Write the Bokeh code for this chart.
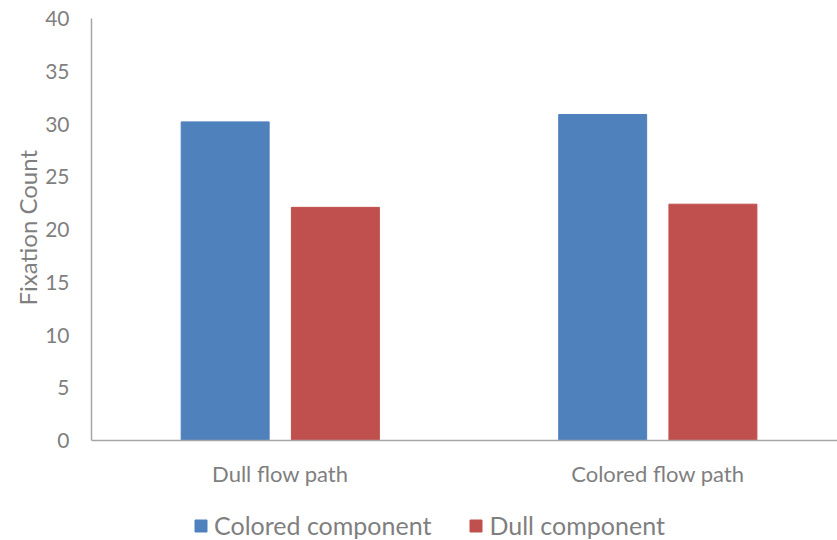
from bokeh.plotting import figure
from bokeh.models import (Range1d, FixedTicker, Legend, LegendItem,
                          ColumnDataSource, Span, Title)
from bokeh.core.properties import value
from bokeh.transform import dodge
from bokeh.embed import file_html
from bokeh.resources import INLINE

# Chart data
categories = ["Dull flow path", "Colored flow path"]
series_names = ["Colored component", "Dull component"]
colored_component = [30.2, 30.9]
dull_component = [22.1, 22.4]
y_ticks = [0, 5, 10, 15, 20, 25, 30, 35, 40]
y_title = "Fixation Count"

BLUE = "#4F81BD"
RED = "#C0504D"
TEXT = "#7F7F7F"
AXIS = "#A6A6A6"
FONT = "Lato"

Y_MAX = 40
PLOT_PX = 422      # pixel height of the 0..40 value band
FOOT_PX = 100      # room below the baseline for category labels and legend

source = ColumnDataSource(dict(
    x=[i + 0.5 for i in range(len(categories))],
    zero=[0] * len(categories),
    label=categories,
    colored=colored_component,
    dull=dull_component,
))

# the frame reaches down to the bottom edge so the legend can live under the labels
p = figure(
    frame_width=746, frame_height=PLOT_PX + FOOT_PX,
    output_backend="svg", toolbar_location=None,
    x_range=Range1d(0, 1.976),
    y_range=Range1d(-Y_MAX * FOOT_PX / PLOT_PX, Y_MAX),
    min_border_left=91, min_border_right=0, min_border_top=18, min_border_bottom=0,
)
p.outline_line_color = None
p.xgrid.grid_line_color = None
p.ygrid.grid_line_color = None
p.xaxis.visible = False

bar_w = 0.233
r1 = p.vbar(x=dodge("x", -0.146, range=p.x_range), top="colored", width=bar_w,
            source=source, fill_color=BLUE, line_color=BLUE)
r2 = p.vbar(x=dodge("x", 0.146, range=p.x_range), top="dull", width=bar_w,
            source=source, fill_color=RED, line_color=RED)

# baseline at zero
p.add_layout(Span(location=0, dimension="width", line_color=AXIS, line_width=1.5))

# category labels under the baseline
p.text(x="x", y="zero", text="label", source=source, y_offset=33,
       text_font=value(FONT), text_font_size="22px", text_color=TEXT,
       text_align="center", text_baseline="middle")

# y axis, its line limited to the 0..40 band
p.yaxis.ticker = FixedTicker(ticks=y_ticks)
p.yaxis.bounds = (0, Y_MAX)
p.yaxis.axis_line_color = AXIS
p.yaxis.axis_line_width = 1.5
p.yaxis.major_tick_line_color = None
p.yaxis.minor_tick_line_color = None
p.yaxis.major_tick_out = 0
p.yaxis.major_tick_in = 0
p.yaxis.minor_tick_out = 0
p.yaxis.major_label_text_font = FONT
p.yaxis.major_label_text_font_size = "21px"
p.yaxis.major_label_text_color = TEXT
p.yaxis.major_label_standoff = 22

# vertical axis title, centred on the 0..40 band rather than the whole frame
p.add_layout(Title(text=y_title, align="left", offset=235, standoff=2,
                   text_font=FONT, text_font_size="24px",
                   text_font_style="normal", text_color=TEXT), "left")

legend = Legend(
    items=[LegendItem(label=series_names[0], renderers=[r1]),
           LegendItem(label=series_names[1], renderers=[r2])],
    orientation="horizontal", location=(102, 0),
    glyph_width=15, glyph_height=15, label_standoff=6, spacing=37,
    label_height=20,
    label_text_font=FONT, label_text_font_size="25px", label_text_color=TEXT,
    border_line_color=None, background_fill_alpha=0,
    margin=0, padding=0,
)
p.add_layout(legend, "center")

open("out.html", "w").write(file_html(p, INLINE))
